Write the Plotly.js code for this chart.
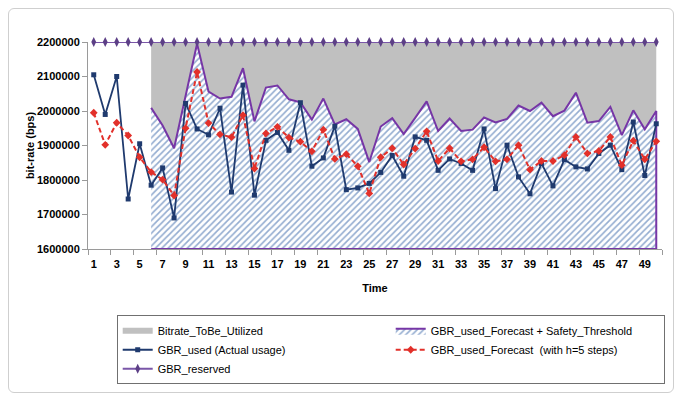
<!DOCTYPE html>
<html>
<head>
<meta charset="utf-8">
<script src="https://cdn.plot.ly/plotly-3.0.1.min.js"></script>
<style>
  html, body { margin: 0; padding: 0; background: #ffffff; }
  #wrap { position: relative; width: 682px; height: 401px; }
  #chart { width: 682px; height: 401px; }
  #frame {
    position: absolute; left: 8px; top: 8px; width: 664px; height: 383px;
    border: 1px solid #cfcfcf; border-radius: 6px; pointer-events: none;
  }
</style>
</head>
<body>
<div id="wrap">
  <div id="chart"></div>
  <div id="frame"></div>
</div>
<script>
// Time steps
const steps = [1,2,3,4,5,6,7,8,9,10,11,12,13,14,15,16,17,18,19,20,
               21,22,23,24,25,26,27,28,29,30,31,32,33,34,35,36,37,38,39,40,
               41,42,43,44,45,46,47,48,49,50];

// Actual GBR usage (bps)
const gbrUsed = [2105000,1990000,2100000,1745000,1905000,1785000,1835000,1690000,2022000,1948000,
                 1931000,2008000,1765000,2075000,1756000,1915000,1938000,1886000,2024000,1840000,
                 1864000,1956000,1772000,1777000,1790000,1822000,1871000,1811000,1925000,1915000,
                 1828000,1861000,1848000,1828000,1948000,1775000,1901000,1809000,1760000,1848000,
                 1783000,1859000,1838000,1832000,1877000,1901000,1830000,1968000,1813000,1963000];

// Forecast of GBR usage, horizon h=5 (bps)
const gbrForecast = [1995000,1902000,1966000,1929000,1866000,1823000,1801000,1755000,1950000,2113000,
                     1965000,1932000,1924000,1988000,1833000,1935000,1954000,1923000,1911000,1883000,
                     1946000,1861000,1875000,1840000,1761000,1866000,1892000,1845000,1891000,1941000,
                     1855000,1892000,1854000,1860000,1895000,1854000,1860000,1901000,1830000,1855000,
                     1855000,1872000,1925000,1877000,1884000,1925000,1843000,1914000,1860000,1912000];

// Reserved GBR (bps)
const gbrReserved = [2200000,2200000,2200000,2200000,2200000,2200000,2200000,2200000,2200000,2200000,
                     2200000,2200000,2200000,2200000,2200000,2200000,2200000,2200000,2200000,2200000,
                     2200000,2200000,2200000,2200000,2200000,2200000,2200000,2200000,2200000,2200000,
                     2200000,2200000,2200000,2200000,2200000,2200000,2200000,2200000,2200000,2200000,
                     2200000,2200000,2200000,2200000,2200000,2200000,2200000,2200000,2200000,2200000];

// Forecast + safety threshold, available from step 6 onwards (bps)
const safetySteps = [6,7,8,9,10,11,12,13,14,15,16,17,18,19,20,21,22,23,24,25,
                     26,27,28,29,30,31,32,33,34,35,36,37,38,39,40,41,42,43,44,45,
                     46,47,48,49,50];
const forecastSafety = [2009000,1958000,1892000,2040000,2195000,2056000,2036000,2041000,2124000,1970000,
                        2068000,2074000,2034000,2025000,1975000,2036000,1961000,1976000,1948000,1852000,
                        1955000,1979000,1933000,1980000,2028000,1942000,1978000,1942000,1946000,1981000,
                        1967000,1977000,2016000,2000000,2024000,1985000,2001000,2053000,1966000,1971000,
                        2012000,1930000,2002000,1947000,2000000];

// Axis settings
const Y_MIN = 1600000, Y_MAX = 2200000, Y_STEP = 100000;
const xTicks = [1,3,5,7,9,11,13,15,17,19,21,23,25,27,29,31,33,35,37,39,41,43,45,47,49];

const FONT = '"Liberation Sans", Arial, sans-serif';

// Reserved values over the safety window (top edge of the grey band)
const firstIdx = steps.indexOf(safetySteps[0]);
const reservedWindow = gbrReserved.slice(firstIdx);

// Grey band: between reserved and forecast+threshold
const greyX = safetySteps.concat(safetySteps.slice().reverse());
const greyY = reservedWindow.concat(forecastSafety.slice().reverse());

// Hatched region: from axis floor up to forecast+threshold
const lastStep = safetySteps[safetySteps.length - 1];
const hatchX = safetySteps.concat([lastStep, safetySteps[0]]);
const hatchY = forecastSafety.concat([Y_MIN, Y_MIN]);

const traces = [
  {
    name: 'Bitrate_ToBe_Utilized',
    x: greyX, y: greyY,
    mode: 'none', fill: 'toself', fillcolor: '#c0c0c0',
    hoverinfo: 'skip'
  },
  {
    name: 'GBR_used_Forecast + Safety_Threshold',
    x: hatchX, y: hatchY,
    mode: 'lines', fill: 'toself',
    fillcolor: '#ffffff',
    fillpattern: { shape: '/', fgcolor: '#93acd0', bgcolor: '#ffffff', size: 4.5, solidity: 0.35 },
    line: { color: '#7636a6', width: 2 }
  },
  {
    name: 'GBR_used (Actual usage)',
    x: steps, y: gbrUsed,
    mode: 'lines+markers',
    line: { color: '#1f3a6e', width: 1.8 },
    marker: { symbol: 'square', size: 5, color: '#1f3a6e' }
  },
  {
    name: 'GBR_used_Forecast  (with h=5 steps)',
    x: steps, y: gbrForecast,
    mode: 'lines+markers',
    line: { color: '#e2302a', width: 2, dash: '5px,3px' },
    marker: { symbol: 'diamond', size: 6, color: '#e2302a' }
  },
  {
    name: 'GBR_reserved',
    x: steps, y: gbrReserved,
    mode: 'lines+markers',
    line: { color: '#7a56a8', width: 2 },
    marker: { symbol: 'diamond-tall', size: 7, color: '#5c3f86' },
    cliponaxis: false
  }
];

const yTicks = [];
for (let v = Y_MIN; v <= Y_MAX; v += Y_STEP) yTicks.push(v);

const layout = {
  width: 682, height: 401,
  margin: { l: 88, r: 20, t: 42, b: 152 },
  paper_bgcolor: '#ffffff', plot_bgcolor: '#ffffff',
  showlegend: true,
  font: { family: FONT, color: '#000000' },
  xaxis: {
    range: [0.5, 50.5],
    tickvals: xTicks, ticktext: xTicks.map(String),
    ticks: 'outside', ticklen: 5, tickcolor: 'rgba(0,0,0,0)',
    tickfont: { family: FONT, size: 11, weight: 'bold', color: '#000000' },
    showgrid: false, zeroline: false,
    showline: true, linecolor: '#9a9a9a', linewidth: 1,
    minor: { tick0: 0.5, dtick: 2, ticks: 'outside', ticklen: 5, tickcolor: '#9a9a9a', showgrid: false },
    title: { text: 'Time', font: { family: FONT, size: 11, weight: 'bold' }, standoff: 15 }
  },
  yaxis: {
    range: [Y_MIN, Y_MAX],
    tickvals: yTicks, tickformat: 'd',
    ticks: 'outside', ticklen: 5, tickcolor: '#9a9a9a',
    tickfont: { family: FONT, size: 11, weight: 'bold', color: '#000000' },
    showgrid: false, zeroline: false,
    showline: true, linecolor: '#9a9a9a', linewidth: 1,
    title: { text: 'bit-rate (bps)', font: { family: FONT, size: 11, weight: 'bold' }, standoff: 0 }
  },
  legend: {
    orientation: 'h',
    x: 0.05, xanchor: 'left',
    y: -0.32, yanchor: 'top',
    entrywidth: 228, entrywidthmode: 'pixels',
    traceorder: 'normal',
    bordercolor: '#707070', borderwidth: 1,
    bgcolor: '#ffffff',
    font: { family: FONT, size: 11, color: '#000000' }
  }
};

Plotly.newPlot('chart', traces, layout, { displayModeBar: false, staticPlot: true });
</script>
</body>
</html>
